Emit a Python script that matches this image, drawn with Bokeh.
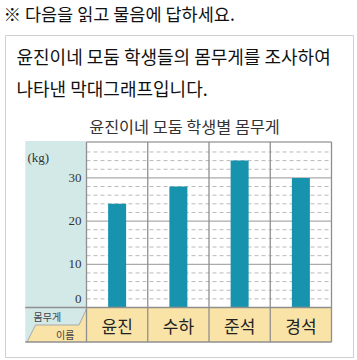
from bokeh.plotting import figure
from bokeh.models import Range1d
from bokeh.core.properties import value
from bokeh.embed import file_html
from bokeh.resources import INLINE

# ---- data ----
names = ["윤진", "수하", "준석", "경석"]
weights = [24, 28, 34, 30]
major_ticks = [0, 10, 20, 30]
minor_ticks = [2, 4, 6, 8, 12, 14, 16, 18, 22, 24, 26, 28, 32, 34, 36]
y_top = 38.3
unit_label = "(kg)"
title = "윤진이네 모둠 학생별 몸무게"
header = "※ 다음을 읽고 물음에 답하세요."
box_lines = ["윤진이네 모둠 학생들의 몸무게를 조사하여", "나타낸 막대그래프입니다."]
row_top_label = "몸무게"
row_bottom_label = "이름"

# ---- layout helpers (pixel -> data) ----
W, H = 357, 360
X0, COLW = 86.0, 61.25     # pixel x of first column, column width
Y0, KPX = 307.0, 4.32      # pixel y of zero line, px per kg

def X(px):
    return (px - X0) / COLW

def Y(py):
    return (Y0 - py) / KPX

p = figure(width=W, height=H, output_backend="svg", toolbar_location=None,
           x_range=Range1d(X(0), X(W)), y_range=Range1d(Y(H), Y(0)),
           min_border=0, min_border_left=0, min_border_right=0,
           min_border_top=0, min_border_bottom=0)
p.axis.visible = False
p.grid.visible = False
p.outline_line_color = None
p.background_fill_color = "white"
p.border_fill_color = "white"

KR = value("Noto Sans CJK KR")
SERIF = value("Liberation Serif")
GRAY = "#8f8f8f"
TEAL_BG = "#d3e9e8"
YELLOW = "#f9e3a6"
BAR = "#1893ad"

row_bot = Y(341.5)
n = len(names)

# outer box
p.quad(left=[X(5)], right=[X(353)], bottom=[Y(357)], top=[Y(35)],
       fill_color=None, line_color="#cfcfcf", line_width=1)

# left teal panel (value axis area)
p.quad(left=[-1], right=[0], bottom=[row_bot], top=[Y(140.5)],
       fill_color=TEAL_BG, line_color=None)
# label row (yellow)
p.quad(left=[0], right=[n], bottom=[row_bot], top=[0],
       fill_color=YELLOW, line_color=None)
# diagonal header cell yellow part
p.patch(x=[X(26.5), X(35), X(78.5), X(86), X(86)],
        y=[row_bot, Y(324.5), Y(324.5), Y(308.5), row_bot],
        fill_color=YELLOW, line_color=None)
p.line(x=[X(26.5), X(35), X(78.5), X(86)],
       y=[row_bot, Y(324.5), Y(324.5), Y(308.5)],
       line_color="#a8a8a8", line_width=1)

# dashed minor grid
for t in minor_ticks:
    p.segment(x0=[0], y0=[t], x1=[n], y1=[t], line_color="#b9b9b9",
              line_width=1, line_dash="4 3")
# solid major grid
for t in major_ticks[1:]:
    p.segment(x0=[0], y0=[t], x1=[n], y1=[t], line_color="#ababab", line_width=1.3)
# top line
p.segment(x0=[0], y0=[y_top], x1=[n], y1=[y_top], line_color="#a5a5a5", line_width=1.5)

# bars
xs = [i + 0.5 for i in range(n)]
p.vbar(x=xs, top=weights, bottom=0, width=18 / COLW, fill_color=BAR, line_color=None)

# column borders
for i in range(n + 1):
    p.segment(x0=[i], y0=[row_bot], x1=[i], y1=[y_top], line_color=GRAY, line_width=1.3)
# zero line and bottom line
p.segment(x0=[-1], y0=[0], x1=[n], y1=[0], line_color=GRAY, line_width=1.3)
p.segment(x0=[-1], y0=[row_bot], x1=[n], y1=[row_bot], line_color=GRAY, line_width=1.3)

# tick labels
tick_y = [t if t > 0 else 1.9 for t in major_ticks]
p.text(x=[X(81)] * len(major_ticks), y=tick_y, text=[str(t) for t in major_ticks],
       text_font=SERIF, text_font_size="13px", text_align="right",
       text_baseline="middle", text_color="#333333")
p.text(x=[X(27)], y=[Y(157)], text=[unit_label], text_font=SERIF,
       text_font_size="13px", text_align="left", text_baseline="middle",
       text_color="#333333")

# category labels
p.text(x=xs, y=[Y(325)] * n, text=names, text_font=KR, text_font_size="17px",
       text_align="center", text_baseline="middle", text_color="#222222")

# header cell labels
p.text(x=[X(33)], y=[Y(315.5)], text=[row_top_label], text_font=KR,
       text_font_size="10px", text_align="left", text_baseline="middle",
       text_color="#444444")
p.text(x=[X(74)], y=[Y(333.5)], text=[row_bottom_label], text_font=KR,
       text_font_size="10px", text_align="right", text_baseline="middle",
       text_color="#444444")

# chart title
p.text(x=[X(184)], y=[Y(125)], text=[title], text_font=KR, text_font_size="16.3px",
       text_align="center", text_baseline="middle", text_color="#333333")

# header & box text
p.text(x=[X(3)], y=[Y(13)], text=[header], text_font=KR, text_font_size="17.5px",
       text_align="left", text_baseline="middle", text_color="#111111")
p.text(x=[X(16)] * 2, y=[Y(55), Y(87)], text=box_lines, text_font=KR,
       text_font_size="18px", text_align="left", text_baseline="middle",
       text_color="#111111")

open("out.html", "w").write(file_html(p, INLINE))
